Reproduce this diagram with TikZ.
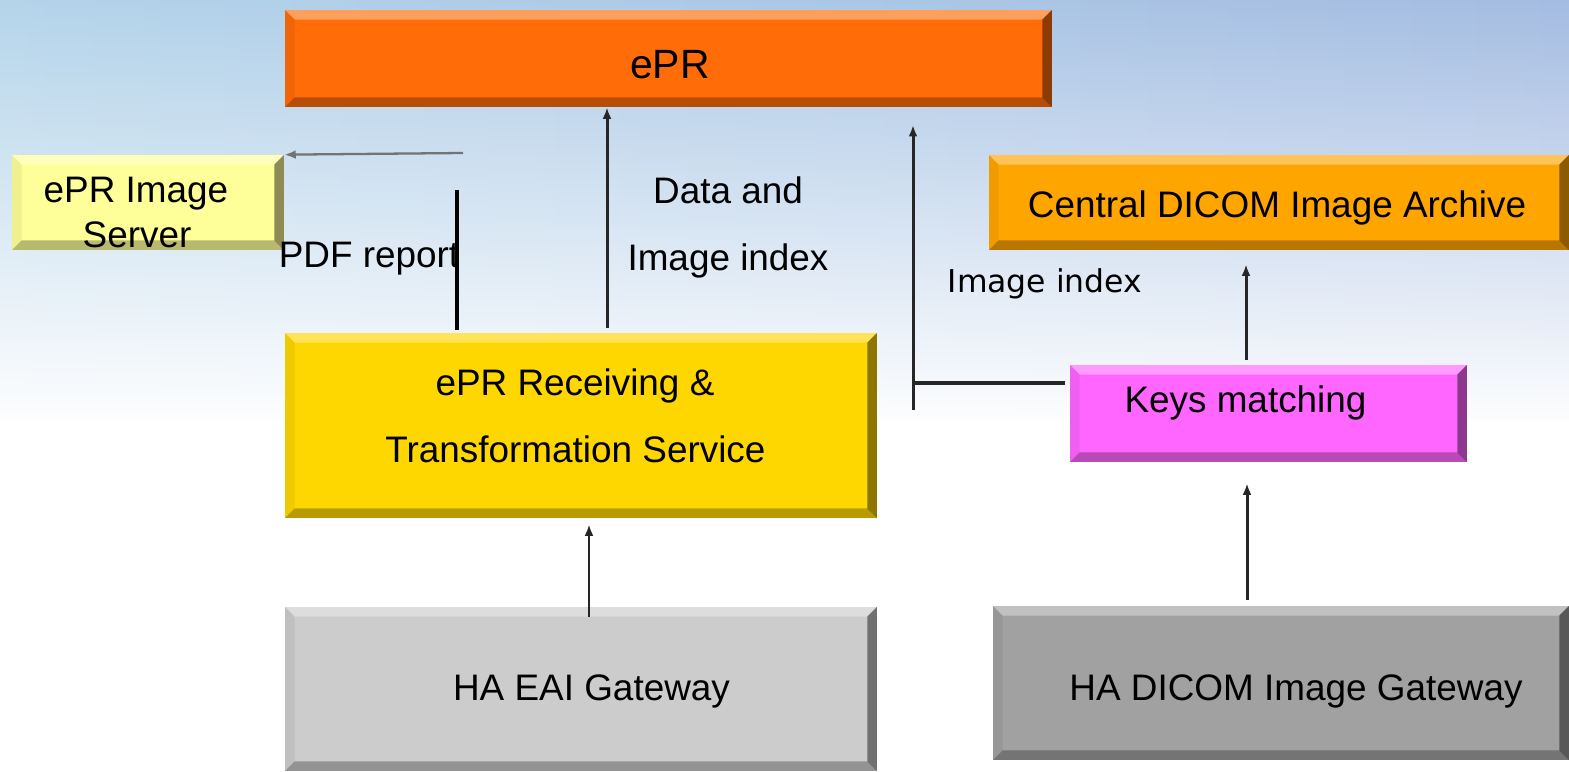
\documentclass[tikz,border=0pt]{standalone}
\usepackage{fontspec}
\setmainfont{Liberation Sans}
\newfontfamily\idxfont{DejaVu Sans}
\usetikzlibrary{arrows.meta,fadings}

\definecolor{eprorange}{RGB}{255,108,8}
\definecolor{srvyellow}{RGB}{255,255,153}
\definecolor{recvgold}{RGB}{255,215,0}
\definecolor{archorange}{RGB}{255,165,0}
\definecolor{keyspink}{RGB}{255,102,255}
\definecolor{eaigray}{RGB}{204,204,204}
\definecolor{dicomgray}{RGB}{161,161,161}
\definecolor{skytop}{RGB}{180,212,234}
\definecolor{skyright}{RGB}{164,188,226}

\tikzfading[name=skyfade, top color=transparent!100, bottom color=transparent!0]

\tikzset{
	box/.style={rectangle, inner sep=0pt, path picture={
		\coordinate (bnw) at (path picture bounding box.north west);
		\coordinate (bne) at (path picture bounding box.north east);
		\coordinate (bsw) at (path picture bounding box.south west);
		\coordinate (bse) at (path picture bounding box.south east);
		\fill[white,opacity=.35] (bnw) -- (bne) -- ([xshift=-5.5pt,yshift=-5.5pt]bne) -- ([xshift=5.5pt,yshift=-5.5pt]bnw) -- cycle;	%top
		\fill[black,opacity=.06] (bnw) -- ([xshift=5.5pt,yshift=-5.5pt]bnw) -- ([xshift=5.5pt,yshift=5.5pt]bsw) -- (bsw) -- cycle;	%left
		\fill[black,opacity=.28] (bsw) -- ([xshift=5.5pt,yshift=5.5pt]bsw) -- ([xshift=-5.5pt,yshift=5.5pt]bse) -- (bse) -- cycle;	%bottom
		\fill[black,opacity=.45] (bse) -- ([xshift=-5.5pt,yshift=5.5pt]bse) -- ([xshift=-5.5pt,yshift=-5.5pt]bne) -- (bne) -- cycle;	%right
	}},
	txt/.style={anchor=base, inner sep=0pt, font=\fontsize{21}{25}\selectfont},
	arr/.style={-{Latex[length=6.5pt,width=5pt]}, line width=1.7pt, draw=black!85},
}

\begin{document}
\begin{tikzpicture}[x=0.02cm, y=-0.02cm]
	\useasboundingbox (0,0) rectangle (1569,771);
	
	%background
	\fill[white] (0,0) rectangle (1569,771);
	\shade[left color=skytop, right color=skyright] (-5,0) rectangle (1574,420);
	\fill[white, path fading=skyfade] (-10,-2) rectangle (1579,430);
	
	%boxes
	\node[box, fill=eprorange, minimum width=15.34cm, minimum height=1.94cm] (epr) at (668.5,58.5) {};
	\node[box, fill=srvyellow, minimum width=5.44cm, minimum height=1.9cm] (imgsrv) at (148,202.5) {};
	\node[box, fill=recvgold, minimum width=11.84cm, minimum height=3.7cm] (recv) at (581,425.5) {};
	\node[box, fill=archorange, minimum width=11.6cm, minimum height=1.9cm] (cdia) at (1279,202.5) {};
	\node[box, fill=keyspink, minimum width=7.94cm, minimum height=1.94cm] (keys) at (1268.5,413.5) {};
	\node[box, fill=eaigray, minimum width=11.84cm, minimum height=3.28cm] (haeai) at (581,689) {};
	\node[box, fill=dicomgray, minimum width=11.52cm, minimum height=3.08cm] (hadicom) at (1281,683) {};
	
	%box captions
	\node[txt, font=\fontsize{23.3}{28}\selectfont] (epr-t) at (670,78) {ePR};
	\node[txt] (imgsrv-t1) at (136,202) {ePR Image};
	\node[txt] (imgsrv-t2) at (137,247) {Server};
	\node[txt] (recv-t1) at (575,395) {ePR Receiving \&};
	\node[txt] (recv-t2) at (575.5,462) {Transformation Service};
	\node[txt] (cdia-t) at (1277,217) {Central DICOM Image Archive};
	\node[txt] (keys-t) at (1245.5,412) {Keys matching};
	\node[txt] (haeai-t) at (591.5,700) {HA EAI Gateway};
	\node[txt] (hadicom-t) at (1296,700) {HA DICOM Image Gateway};
	
	%link captions
	\node[txt] (pdf-l) at (369,267) {PDF report};
	\node[txt] (data-l1) at (728,203) {Data and};
	\node[txt] (data-l2) at (728,270) {Image index};
	\node[txt, font=\idxfont\fontsize{17.9}{22}\selectfont] (idx-l) at (1045,292) {Image index};
	
	%bends
	\coordinate (pdfbend) at (463,153);
	\coordinate (pdftop) at (457,190);
	\coordinate (dataX) at (607,0);
	\coordinate (keysjoin) at (913,383);
	\coordinate (keyslow) at (913,410);
	\coordinate (keyshigh) at (913,125);
	\coordinate (archX) at (1246,0);
	\coordinate (eaiX) at (589,0);
	\coordinate (dicomX) at (1247,0);
	
	%connectors
	\draw[arr, line width=1.3pt, draw=black!55] (pdfbend) -- (imgsrv.north east);		%to image server
	\draw[line width=2.8pt, shorten <=0.06cm] (recv.north -| pdftop) -- (pdftop);		%PDF report
	\draw[arr, shorten <=0.1cm] (recv.north -| dataX) -- (epr.south -| dataX);		%data and image index
	\draw[line width=2.2pt, draw=black!85, shorten <=0.1cm] (keys.west |- keysjoin) -- (keysjoin);	%keys: left
	\draw[arr] (keyslow) -- (keyshigh);		%keys: up
	\draw[arr, shorten <=0.1cm, shorten >=0.28cm] (keys.north -| archX) -- (cdia.south -| archX);
	\draw[arr, shorten <=-0.2cm, shorten >=0.12cm] (haeai.north -| eaiX) -- (recv.south -| eaiX);
	\draw[arr, shorten <=0.12cm, shorten >=0.42cm] (hadicom.north -| dicomX) -- (keys.south -| dicomX);
\end{tikzpicture}
\end{document}
